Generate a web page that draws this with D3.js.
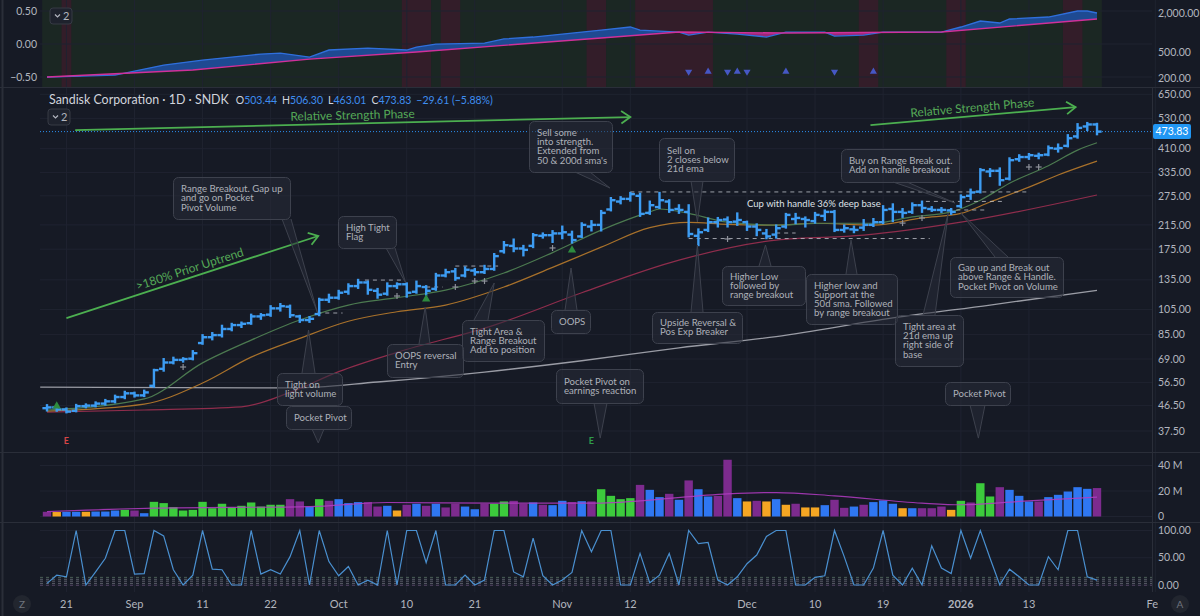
<!DOCTYPE html>
<html>
<head>
<meta charset="utf-8">
<script src="https://cdn.jsdelivr.net/npm/d3@7"></script>
<style>
  body { margin: 0; background: #161a25; }
  svg text { font-family: Lato, 'Noto Sans', sans-serif; }
</style>
</head>
<body>
<div id="vis"></div>
<script>
// trading days on the chart
const dates = [
  '2025-08-19','2025-08-20','2025-08-21','2025-08-22','2025-08-25','2025-08-26','2025-08-27','2025-08-28','2025-08-29',
  '2025-09-02','2025-09-03','2025-09-04','2025-09-05','2025-09-08','2025-09-09','2025-09-10','2025-09-11','2025-09-12',
  '2025-09-15','2025-09-16','2025-09-17','2025-09-18','2025-09-19','2025-09-22','2025-09-23','2025-09-24','2025-09-25',
  '2025-09-26','2025-09-29','2025-09-30',
  '2025-10-01','2025-10-02','2025-10-03','2025-10-06','2025-10-07','2025-10-08','2025-10-09','2025-10-10','2025-10-13',
  '2025-10-14','2025-10-15','2025-10-16','2025-10-17','2025-10-20','2025-10-21','2025-10-22','2025-10-23','2025-10-24',
  '2025-10-27','2025-10-28','2025-10-29','2025-10-30','2025-10-31',
  '2025-11-03','2025-11-04','2025-11-05','2025-11-06','2025-11-07','2025-11-10','2025-11-11','2025-11-12','2025-11-13',
  '2025-11-14','2025-11-17','2025-11-18','2025-11-19','2025-11-20','2025-11-21','2025-11-24','2025-11-25','2025-11-26',
  '2025-11-28',
  '2025-12-01','2025-12-02','2025-12-03','2025-12-04','2025-12-05','2025-12-08','2025-12-09','2025-12-10','2025-12-11',
  '2025-12-12','2025-12-15','2025-12-16','2025-12-17','2025-12-18','2025-12-19','2025-12-22','2025-12-23','2025-12-24',
  '2025-12-26','2025-12-29','2025-12-30','2025-12-31',
  '2026-01-02','2026-01-05','2026-01-06','2026-01-07','2026-01-08','2026-01-09','2026-01-12','2026-01-13','2026-01-14',
  '2026-01-15','2026-01-16','2026-01-20','2026-01-21','2026-01-22','2026-01-23'
]
const futureDates = ['2026-01-26', '2026-01-27', '2026-01-28', '2026-01-29', '2026-01-30', '2026-02-02']

const open = [45.5,45.8,45.0,44.5,46.3,46.5,47.3,48.2,50.0,51.6,
  50.7,55.0,63.5,67.0,68.5,69.2,79.0,83.0,84.5,89.0,
  92.0,93.5,99.0,100.5,106.0,107.5,99.0,96.0,101,114,
  116,122,128,132,123,120,128,130,122,127,
  125,140,145,140,146,144,148,172,180,176,
  180,196,197,200,198,195,212,215,245,262,
  268,275,238,250,262,246,240,196,206,220,
  225,221,220,212,200,198,212,226,226,222,
  232,240,206,207,210,215,220,246,240,240,
  254,246,244,243,252,275,285,338,340,318,
  375,382,386,390,410,420,455,495,503.44]
const high = [46.7,46.5,45.4,46.8,47.0,47.8,48.8,50.6,52.3,51.9,
  52.8,63.0,69.0,69.8,69.5,73.8,84.5,86.0,91.5,93.0,
  94.0,100.5,101.0,108.0,110.0,108.5,99.5,98.5,115,119,
  123,130,135,133,125,131,131,131,133,128,
  142,147,148,150,148,152,168,186,190,180,
  199,200,204,212,203,218,222,242,270,272,
  282,280,262,282,265,254,254,207,227,228,
  229,237,221,216,206,214,236,236,229,238,
  243,242,214,212,224,226,252,256,246,258,
  262,250,248,246,276,290,345,345,347,378,
  388,392,393,418,425,460,505,510,506.30]
const low = [44.6,44.5,43.9,44.3,45.8,46.2,46.9,47.8,49.5,50.2,
  50.4,54.5,62.5,66.5,67.5,68.8,78.5,81.5,83.5,88.0,
  90.5,93.0,97.0,99.5,104.0,98.5,94.5,94.5,100,112,
  115,120,126,120,116,119,126,117,121,119,
  124,139,135,139,141,143,147,170,172,166,
  178,193,186,192,185,194,205,205,243,258,
  264,232,236,248,240,238,195,181,204,212,
  212,215,206,197,192,193,210,218,212,219,
  224,204,203,202,206,213,218,222,230,238,
  240,242,240,236,250,268,283,325,302,316,
  370,376,378,388,400,418,450,480,463.01]
const close = [45.8,45.0,44.2,46.3,46.5,47.3,48.2,50.0,51.6,50.7,
  52.0,62.8,67.0,68.5,69.0,72.5,83.0,84.5,89.0,92.0,
  93.0,99.0,100.0,106.0,108.0,100.0,96.0,97.0,114,116,
  121,128,132,124,119,128,130,121,128,123,
  140,144,137,147,144,148,165,181,176,174,
  197,197,200,202,189,215,215,238,265,268,
  279,236,254,265,244,244,199,202,220,224,
  220,224,212,206,195,209,234,228,224,234,
  240,206,209,206,215,220,244,240,238,254,
  248,244,244,240,272,283,342,340,314,372,
  382,388,388,412,412,448,489,503.44,473.83]

// volume in millions, and its class: G pocket pivot, U up, D down, L light
const volume = [3.7,3.5,3.7,3.7,3.7,3.9,3.9,4.7,5.2,4.7,
  2.6,11.5,10.5,7.3,4.7,5.2,11.5,6.5,10.0,7.1,
  8.4,11.0,7.8,9.2,9.2,13.6,11.8,7.8,13.6,12.3,
  13.6,10.5,11.3,11.3,7.8,8.4,4.7,9.2,10.0,8.4,
  10.0,7.1,10.0,7.8,5.7,10.0,10.0,11.8,12.3,10.0,
  11.0,9.2,8.9,12.3,11.3,12.0,11.8,21.4,16.2,13.6,
  14.4,24.8,20.9,15.2,17.8,13.1,28.3,21.4,15.7,16.2,
  44.5,14.4,11.8,12.3,11.8,13.6,9.2,10.0,7.1,7.1,
  8.9,13.1,6.8,7.8,9.2,11.3,12.6,10.0,6.5,6.5,
  6.5,6.5,7.8,5.2,12.3,11.0,26.1,15.7,23.0,20.9,
  16.2,11.8,11.8,15.2,17.0,19.6,23.0,21.7,22.3]
const volClass = ('DLUULUUUGDUGGGGGGGGGGGGGGDDUGDUUUDDULDUDUDDUUDGGDDUDUUDUD' +
  'GGGGDUUDUDUUDDULDLULDLLUDDUDUUULUDDDLGDGGDUUUDUUUUUD').split('')
const volAvg = [[0,3.9],[11,6.5],[27,7.8],[35,11],[46,10.5],[57,10.5],[61,12.3],[70,17.8],
  [75,18.8],[81,16.2],[90,10.5],[94,9.2],[100,11.8],[108,15.2]]

// lower oscillator
const osc = [3,18,15,100,0,24,49,100,100,20,
  21,100,90,28,0,18,100,29,28,0,
  0,100,20,28,20,52,100,0,100,43,
  17,34,0,9,0,100,0,100,100,41,
  100,0,0,18,0,9,100,100,24,15,
  86,17,0,9,23,100,61,100,100,0,
  0,58,4,18,58,0,100,76,78,9,
  0,15,39,55,89,100,100,0,0,14,
  17,100,52,0,0,31,100,18,0,31,
  0,72,31,21,100,49,100,49,0,29,
  15,0,0,52,28,100,100,15,9]
const oscLevels = [14, 10.5, 7, 3, -0.5]

// moving averages: [bar index, price]
const ema21 = [[0,44.8],[10,49.2],[16,66.8],[21,81],[26,96],[31,109],[36,116],[41,123.7],[47,143],
  [52,170],[57,205.7],[62,240],[63,246],[66,237],[70,220],[75,214.6],[80,218],[85,218],[89,230],
  [93,240],[96,265],[99,306],[103,355],[106,405],[108,431]]
const sma50 = [[0,44.4],[10,47.1],[16,56.3],[21,70.1],[26,82.2],[31,95],[36,103],[41,109],[47,127],
  [52,150],[57,178],[62,210],[66,219.7],[70,216],[75,214.6],[79,218],[85,214.6],[90,228],[94,237],
  [97,261],[101,296],[104,328],[108,369]]
const sma100 = [[0,44],[10,44.8],[20,46],[25,52],[30,62],[36,73],[46,92],[55,121],[65,159.5],
  [75,189],[84,197],[94,220],[108,277]]
const sma200 = [[-0.7,54.4],[25,54],[34,56.8],[45,61.8],[55,68],[65,75.9],[75,83.4],[87,97.7],
  [97,109],[108,123.5]]

// relative strength pane
const rsLine = [[0,207],[7,222],[12,316],[16,377],[22,467],[24,484],[27,420],[29,539],[33,578],
  [37,539],[38,599],[40,666],[45,690],[47,797],[50,854],[53,949],[57,1094],[60,1218],[61,1094],
  [65,1019],[66,916],[68,1019],[71,949],[74,854],[76,1019],[80,1019],[81,884],[84,916],[86,1019],
  [92,1019],[94,1218],[96,1506],[98,1403],[99,1616],[103,1735],[106,2146],[107,2146],[108,2000]]
const rsAvg = [[0,207],[15,265],[27,391],[38,502],[57,825],[65,1019],[76,983],[92,1019],[108,1616]]
const rsWeakBands = [[2,2],[37,39],[41,42],[56,57],[61,68],[84,85],[93,94],[105,106]]
const rsSignals = [[66,'dn'],[68,'up'],[70,'dn'],[71,'up'],[72,'dn'],[76,'up'],[81,'dn'],[85,'up']]

// chart markers
const plusMarks = [[14,64.5],[36,117.7],[42,127],[44,133.6],[45,133.6],[52,176.8],[70,190.8],
  [88,218.3],[90,227.9],[101,351.1],[102,351.1]]
const pivotMarks = [[1,46.3],[39,114.7],[54,173.6]]
const earnings = [[2,'miss'],[56,'beat']]

// axis ticks
const priceTicks = [650,530,410,335,275,215,175,135,105,85,69,56.5,46.5,37.5]
const rsTicks = [2000,500,200]
const rsLeftTicks = [0.5,0,-0.5]
const volTicks = [40,20,0]
const oscTicks = [100,50,0]
const timeTicks = [['2025-08-21','21'],['2025-09-02','Sep'],['2025-09-11','11'],['2025-09-22','22'],
  ['2025-10-01','Oct'],['2025-10-10','10'],['2025-10-21','21'],['2025-11-03','Nov'],['2025-11-12','12'],
  ['2025-12-01','Dec'],['2025-12-10','10'],['2025-12-19','19'],['2026-01-02','2026'],['2026-01-13','13'],
  ['2026-02-02','Feb']]

// annotations
const trendArrows = [
  { from: [2.9, 480], to: [60, 536], label: 'Relative Strength Phase' },
  { from: [84.7, 501], to: [105.8, 583], label: 'Relative Strength Phase' },
  { from: [2, 97.6], to: [27.9, 195.7], label: '>180% Prior Uptrend' }
]
const levelLines = [[60,100.9,284.2],[66,90.8,191.5],[90.4,98.6,262.3],[92.7,96.5,243.9],[75,77,200.7],
  [32.7,36.7,134.7],[39,40.7,127],[42,46.4,151.7],[27.8,30.4,101.9]]
const callouts = [
  { lines: ['Range Breakout. Gap up', 'and go on Pocket', 'Pivot Volume'], box: [173,177,117,42], side: 'bottom', base: [282,291], tip: [27.8,102.7] },
  { lines: ['High Tight', 'Flag'], box: [338,216,58,32], side: 'bottom', base: [386,395], tip: [36.9,131.4] },
  { lines: ['Sell some', 'into strength.', 'Extended from', "50 & 200d sma's"], box: [529,121,83,51], side: 'bottom', base: [575,590], tip: [57.9,293.9] },
  { lines: ['Sell on', '2 closes below', '21d ema'], box: [659,138,75,43], side: 'bottom', base: [691,703], tip: [66.9,220.3] },
  { lines: ['Upside Reversal &', 'Pos Exp Breaker'], box: [652,312,90,31], side: 'top', base: [691,703], tip: [66.9,181.3] },
  { lines: ['OOPS'], box: [551,310,39,23], side: 'top', base: [565,577], tip: [53.9,149.2] },
  { lines: ['Tight Area &', 'Range Breakout', 'Add to position'], box: [462,320,82,41], side: 'top', base: [474,488], tip: [46,131.4] },
  { lines: ['OOPS reversal', 'Entry'], box: [387,344,76,33], side: 'top', base: [419,430], tip: [38.9,107.2] },
  { lines: ['Pocket Pivot on', 'earnings reaction'], box: [556,369,87,34], side: 'bottom', base: [594,607], tip: [56.9,35.3] },
  { lines: ['Tight on', 'light volume'], box: [277,373,65,32], side: 'top', base: [302,315], tip: [26.9,88.2] },
  { lines: ['Pocket Pivot'], box: [286,406,65,23], side: 'bottom', base: [312,324], tip: [27.9,33.9] },
  { lines: ['Higher Low', 'followed by', 'range breakout'], box: [722,266,83,39], side: 'top', base: [759,771], tip: [73.9,181.3] },
  { lines: ['Higher low and', 'Support at the', '50d sma. Followed', 'by range breakout'], box: [806,274,91,50], side: 'top', base: [846,857], tip: [82.7,189] },
  { lines: ['Buy on Range Break out.', 'Add on handle breakout'], box: [841,149,118,33], side: 'bottom', base: [893,907], tip: [93.4,258.8] },
  { lines: ['Tight area at', '21d ema up', 'right side of', 'base'], box: [895,315,68,51], side: 'top', base: [923,935], tip: [92.7,237.7] },
  { lines: ['Gap up and Break out', 'above Range & Handle.', 'Pocket Pivot on Volume'], box: [950,257,113,40], side: 'top', base: [995,1008], tip: [94,237.7] },
  { lines: ['Pocket Pivot'], box: [945,382,65,23], side: 'bottom', base: [970,985], tip: [95.8,35.3] }
]

const W = 1200, H = 616
const PLOT_L = 40, PLOT_R = 1152
const axisColor = '#b2b5be', gridColor = '#1f2330', sepColor = '#2a2e39'
const barBlue = '#3d9cf2'

const allDates = dates.concat(futureDates)
const x = d3.scaleLinear().domain([0, dates.length - 1]).range([47, 1097])
const half = (x(1) - x(0)) / 2
const y = d3.scaleLog().domain([37.5, 650]).range([431, 94.3])
const yRS = d3.scaleLog().domain([200, 2000]).range([78, 13])
const yLeft = d3.scaleLinear().domain([-0.5, 0.5]).range([77, 11])
const yVol = d3.scaleLinear().domain([0, 40]).range([516.5, 465.5])
const yOsc = d3.scaleLinear().domain([0, 100]).range([585, 530.5])
const volColor = d3.scaleOrdinal().domain(['G', 'U', 'D', 'L']).range(['#3ccb3c', '#2f77f2', '#7d2b8e', '#f5a623'])
const levelColor = d3.scaleOrdinal().range(['#6f8f7c', '#8a8e99', '#8a8e99', '#8a8e99', '#7c5f8c'])
const fmt2 = d3.format(',.2f')

const svg = d3.select('#vis').append('svg').attr('width', W).attr('height', H)
svg.append('rect').attr('width', W).attr('height', H).attr('fill', '#161a25')

const defs = svg.append('defs')
defs.append('clipPath').attr('id', 'clipMain').append('rect')
  .attr('x', PLOT_L).attr('y', 88).attr('width', PLOT_R - PLOT_L).attr('height', 364)
defs.append('clipPath').attr('id', 'clipAxis').append('rect')
  .attr('x', 0).attr('y', 592).attr('width', 1158).attr('height', 24)

// ---------- top relative strength pane: background ----------
const rsBack = svg.append('g')
rsBack.append('rect').attr('x', x(0) - half).attr('y', 0)
  .attr('width', x(dates.length - 1) - x(0) + 2 * half).attr('height', 87).attr('fill', '#1b2723')
rsBack.selectAll('rect.band').data(rsWeakBands).join('rect').attr('class', 'band')
  .attr('x', d => x(d[0]) - half).attr('y', 0)
  .attr('width', d => x(d[1]) - x(d[0]) + 2 * half).attr('height', 87).attr('fill', '#331d29')

// vertical grid through all panes
svg.append('g').selectAll('line').data(timeTicks).join('line')
  .attr('x1', d => x(allDates.indexOf(d[0]))).attr('x2', d => x(allDates.indexOf(d[0])))
  .attr('y1', 0).attr('y2', 592).attr('stroke', gridColor).attr('stroke-width', 1)

// ---------- top relative strength pane: content ----------
const rsPane = svg.append('g')
rsPane.selectAll('line.h').data(rsLeftTicks).join('line').attr('class', 'h')
  .attr('x1', PLOT_L).attr('x2', PLOT_R).attr('y1', d => yLeft(d)).attr('y2', d => yLeft(d))
  .attr('stroke', gridColor)

const rsPts = rsLine.map(d => [x(d[0]), yRS(d[1])])
const avgPts = rsAvg.map(d => [x(d[0]), yRS(d[1])])
const pix = d3.line()
const xa = x(0), xb = x(dates.length - 1)
defs.append('clipPath').attr('id', 'rsAbove').append('path')
  .attr('d', pix(avgPts.concat([[xb, 0], [xa, 0]])) + 'Z')
defs.append('clipPath').attr('id', 'rsBelow').append('path')
  .attr('d', pix(avgPts.concat([[xb, 87], [xa, 87]])) + 'Z')
const between = pix(rsPts.concat(avgPts.slice().reverse())) + 'Z'
rsPane.append('path').attr('d', between).attr('fill', '#1e4a92').attr('clip-path', 'url(#rsAbove)')
rsPane.append('path').attr('d', between).attr('fill', '#9c2777').attr('clip-path', 'url(#rsBelow)')
rsPane.append('path').attr('d', pix(rsPts)).attr('fill', 'none').attr('stroke', '#2f6fdc').attr('stroke-width', 1.3)
rsPane.append('path').attr('d', pix(avgPts)).attr('fill', 'none').attr('stroke', '#d0309a').attr('stroke-width', 1.4)

const tri = d3.symbol().type(d3.symbolTriangle).size(22)
rsPane.selectAll('path.sig').data(rsSignals).join('path').attr('class', 'sig')
  .attr('d', tri)
  .attr('transform', d => `translate(${x(d[0])},${yRS(250)}) rotate(${d[1] === 'dn' ? 180 : 0})`)
  .attr('fill', '#4657c4')

rsPane.selectAll('text.l').data(rsLeftTicks).join('text').attr('class', 'l')
  .attr('x', 37).attr('y', d => yLeft(d)).attr('dy', '0.35em').attr('text-anchor', 'end')
  .attr('font-size', 10.5).attr('fill', axisColor).text(d => d3.format('.2f')(d))
rsPane.selectAll('text.r').data(rsTicks).join('text').attr('class', 'r')
  .attr('x', 1158).attr('y', d => yRS(d)).attr('dy', '0.35em')
  .attr('font-size', 10.5).attr('fill', axisColor).text(d => fmt2(d))

function chip(g, cx, cy) {
  g.append('rect').attr('x', cx).attr('y', cy).attr('width', 22).attr('height', 16).attr('rx', 3)
    .attr('fill', '#1e222d').attr('stroke', '#363a45')
  g.append('path').attr('d', `M${cx + 5},${cy + 6.5}l2.5,2.5l2.5,-2.5`).attr('fill', 'none')
    .attr('stroke', axisColor).attr('stroke-width', 1.2)
  g.append('text').attr('x', cx + 13).attr('y', cy + 12).attr('font-size', 11).attr('fill', axisColor).text('2')
}
chip(rsPane, 50, 8)

// ---------- separators ----------
;[87.5, 452.5, 522.5].forEach(v => svg.append('line').attr('x1', 0).attr('x2', W).attr('y1', v).attr('y2', v)
  .attr('stroke', sepColor))
svg.append('line').attr('x1', PLOT_R + 0.5).attr('x2', PLOT_R + 0.5).attr('y1', 88).attr('y2', 592).attr('stroke', sepColor)
svg.append('line').attr('x1', 2.5).attr('x2', 2.5).attr('y1', 0).attr('y2', H).attr('stroke', sepColor).attr('stroke-width', 2)

// ---------- main price pane ----------
const main = svg.append('g')
main.selectAll('line.h').data(priceTicks).join('line').attr('class', 'h')
  .attr('x1', PLOT_L).attr('x2', PLOT_R).attr('y1', d => y(d)).attr('y2', d => y(d)).attr('stroke', gridColor)
main.selectAll('text.r').data(priceTicks).join('text').attr('class', 'r')
  .attr('x', 1158).attr('y', d => y(d)).attr('dy', '0.35em')
  .attr('font-size', 10.5).attr('fill', axisColor).text(d => fmt2(d))

const pane = main.append('g').attr('clip-path', 'url(#clipMain)')
const maLine = d3.line().x(d => x(d[0])).y(d => y(d[1])).curve(d3.curveMonotoneX)
const maStyles = [[sma200, '#9a9ca5', 1.3], [sma100, '#8f2d4c', 1.2], [sma50, '#a8712b', 1.2], [ema21, '#4c7a50', 1.2]]
maStyles.forEach(([pts, col, w]) => pane.append('path').attr('d', maLine(pts))
  .attr('fill', 'none').attr('stroke', col).attr('stroke-width', w))

// last price line
const last = close[close.length - 1]
pane.append('line').attr('x1', PLOT_L).attr('x2', PLOT_R).attr('y1', y(last)).attr('y2', y(last))
  .attr('stroke', '#2b8ff0').attr('stroke-dasharray', '1,2').attr('stroke-width', 1)

// level lines
pane.selectAll('line.lvl').data(levelLines).join('line').attr('class', 'lvl')
  .attr('x1', d => x(d[0])).attr('x2', d => x(d[1])).attr('y1', d => y(d[2])).attr('y2', d => y(d[2]))
  .attr('stroke', '#c9ccd4').attr('stroke-opacity', 0.75).attr('stroke-dasharray', '4,4').attr('stroke-width', 1)

pane.append('text').attr('x', 747).attr('y', y(284.2) + 12).attr('dy', '0.35em')
  .attr('font-size', 9.5).attr('fill', '#dfe1e7').text('Cup with handle 36% deep base')

// OHLC bars
const bars = pane.selectAll('g.bar').data(dates).join('g').attr('class', 'bar')
  .attr('stroke', barBlue).attr('stroke-width', 2.4)
bars.append('line').attr('x1', (d, i) => x(i)).attr('x2', (d, i) => x(i))
  .attr('y1', (d, i) => y(high[i]) - 1).attr('y2', (d, i) => y(low[i]) + 1)
bars.append('line').attr('x1', (d, i) => x(i) - 4.6).attr('x2', (d, i) => x(i))
  .attr('y1', (d, i) => y(open[i])).attr('y2', (d, i) => y(open[i]))
bars.append('line').attr('x1', (d, i) => x(i)).attr('x2', (d, i) => x(i) + 4.6)
  .attr('y1', (d, i) => y(close[i])).attr('y2', (d, i) => y(close[i]))

// markers
const plus = pane.selectAll('g.plus').data(plusMarks).join('g').attr('class', 'plus')
  .attr('transform', d => `translate(${x(d[0])},${y(d[1])})`).attr('stroke', '#8e919a').attr('stroke-width', 1.2)
plus.append('line').attr('x1', -3).attr('x2', 3)
plus.append('line').attr('y1', -3).attr('y2', 3)
pane.selectAll('path.pp').data(pivotMarks).join('path').attr('class', 'pp')
  .attr('d', d3.symbol().type(d3.symbolTriangle).size(30))
  .attr('transform', d => `translate(${x(d[0])},${y(d[1])})`).attr('fill', '#2e8b3e')
pane.selectAll('text.e').data(earnings).join('text').attr('class', 'e')
  .attr('x', d => x(d[0])).attr('y', 441).attr('dy', '0.35em').attr('text-anchor', 'middle')
  .attr('font-size', 9).attr('font-weight', 'bold')
  .attr('fill', d => d[1] === 'beat' ? '#2e9c4a' : '#d64545').text('E')

// trend arrows
trendArrows.forEach(a => {
  const x1 = x(a.from[0]), y1 = y(a.from[1]), x2 = x(a.to[0]), y2 = y(a.to[1])
  const ang = Math.atan2(y2 - y1, x2 - x1)
  const g = pane.append('g')
  g.append('line').attr('x1', x1).attr('y1', y1).attr('x2', x2).attr('y2', y2)
    .attr('stroke', '#4caf50').attr('stroke-width', 1.8)
  const hl = 11, ha = 0.6
  g.append('path').attr('d', `M${x2 - hl * Math.cos(ang - ha)},${y2 - hl * Math.sin(ang - ha)}L${x2},${y2}L${x2 - hl * Math.cos(ang + ha)},${y2 - hl * Math.sin(ang + ha)}`)
    .attr('fill', 'none').attr('stroke', '#4caf50').attr('stroke-width', 1.8)
  const mx = (x1 + x2) / 2 + 8.5 * Math.sin(ang), my = (y1 + y2) / 2 - 8.5 * Math.cos(ang)
  g.append('text').attr('transform', `translate(${mx},${my}) rotate(${ang * 180 / Math.PI})`)
    .attr('text-anchor', 'middle').attr('dy', '0.35em').attr('font-size', 12)
    .attr('fill', '#55a957').text(a.label)
})

// callouts
const boxFill = 'rgba(40,44,56,0.55)', boxStroke = '#3d414d'
callouts.forEach(c => {
  const [bx, by, bw, bh] = c.box
  const ey = c.side === 'top' ? by : by + bh
  const tx = x(c.tip[0]), ty = y(c.tip[1])
  const g = main.append('g')
  g.append('path').attr('d', `M${c.base[0]},${ey}L${tx},${ty}L${c.base[1]},${ey}`)
    .attr('fill', boxFill).attr('stroke', boxStroke)
  g.append('rect').attr('x', bx + 0.5).attr('y', by + 0.5).attr('width', bw).attr('height', bh).attr('rx', 5)
    .attr('fill', boxFill).attr('stroke', boxStroke)
  const lh = 9.2, y0 = by + bh / 2 - (c.lines.length - 1) * lh / 2
  g.selectAll('text').data(c.lines).join('text')
    .attr('x', bx + 8).attr('y', (d, i) => y0 + i * lh).attr('dy', '0.35em')
    .attr('font-size', 9.6).attr('fill', '#aeb1b9').text(d => d)
})

// last price tag
main.append('rect').attr('x', 1153).attr('y', y(last) - 7.5).attr('width', 38).attr('height', 15).attr('rx', 2)
  .attr('fill', '#2196f3')
main.append('text').attr('x', 1172).attr('y', y(last)).attr('dy', '0.35em').attr('text-anchor', 'middle')
  .attr('font-size', 10.5).attr('fill', '#ffffff').text(fmt2(last))

// header
chip(main, 48, 109)
const n = close.length - 1
const chg = close[n] - close[n - 1]
const title = main.append('text').attr('x', 49).attr('y', 100).attr('dy', '0.35em').attr('font-size', 12.4)
  .attr('fill', '#d1d4dc').text('Sandisk Corporation · 1D · SNDK')
const titleW = title.node().getComputedTextLength()
const hdr = main.append('text').attr('x', 49 + titleW + 7).attr('y', 100).attr('dy', '0.35em').attr('font-size', 10.5)
const numCol = '#3f8ef0'
;[['O', open[n]], ['H', high[n]], ['L', low[n]], ['C', close[n]]].forEach(([k, v], i) => {
  hdr.append('tspan').attr('fill', '#d1d4dc').attr('dx', i ? 5 : 0).text(k)
  hdr.append('tspan').attr('fill', numCol).text(d3.format('.2f')(v))
})
hdr.append('tspan').attr('fill', numCol).attr('dx', 5)
  .text(`${d3.format('.2f')(chg).replace('-', '−')} (${d3.format('.2f')(chg / close[n - 1] * 100).replace('-', '−')}%)`)

// ---------- volume pane ----------
const vol = svg.append('g')
vol.selectAll('line.h').data(volTicks).join('line').attr('class', 'h')
  .attr('x1', PLOT_L).attr('x2', PLOT_R).attr('y1', d => yVol(d)).attr('y2', d => yVol(d)).attr('stroke', gridColor)
vol.selectAll('rect.v').data(volume).join('rect').attr('class', 'v')
  .attr('x', (d, i) => x(i) - 4.2).attr('width', 8.4)
  .attr('y', d => yVol(d)).attr('height', d => yVol(0) - yVol(d))
  .attr('fill', (d, i) => volColor(volClass[i]))
vol.append('path').attr('d', d3.line().x(d => x(d[0])).y(d => yVol(d[1])).curve(d3.curveMonotoneX)(volAvg))
  .attr('fill', 'none').attr('stroke', '#b43cc4').attr('stroke-width', 1.2).attr('stroke-opacity', 0.85)
vol.selectAll('text.r').data(volTicks).join('text').attr('class', 'r')
  .attr('x', 1158).attr('y', d => yVol(d)).attr('dy', '0.35em')
  .attr('font-size', 10.5).attr('fill', axisColor).text(d => d === 0 ? '0' : d + ' M')

// ---------- oscillator pane ----------
const op = svg.append('g')
op.selectAll('line.h').data(oscTicks).join('line').attr('class', 'h')
  .attr('x1', PLOT_L).attr('x2', PLOT_R).attr('y1', d => yOsc(d)).attr('y2', d => yOsc(d)).attr('stroke', gridColor)
op.selectAll('line.lv').data(oscLevels).join('line').attr('class', 'lv')
  .attr('x1', PLOT_L).attr('x2', PLOT_R).attr('y1', d => yOsc(d)).attr('y2', d => yOsc(d))
  .attr('stroke', (d, i) => levelColor(i)).attr('stroke-opacity', 0.6).attr('stroke-dasharray', '3,3')
op.append('path').attr('d', d3.line().x((d, i) => x(i)).y(d => yOsc(d))(osc))
  .attr('fill', 'none').attr('stroke', '#4a90d0').attr('stroke-width', 1.2)
op.selectAll('text.r').data(oscTicks).join('text').attr('class', 'r')
  .attr('x', 1158).attr('y', d => yOsc(d)).attr('dy', '0.35em')
  .attr('font-size', 10.5).attr('fill', axisColor).text(d => d3.format('.2f')(d))

// ---------- time axis ----------
const ta = svg.append('g').attr('clip-path', 'url(#clipAxis)')
ta.selectAll('text').data(timeTicks).join('text')
  .attr('x', d => x(allDates.indexOf(d[0]))).attr('y', 604).attr('dy', '0.35em').attr('text-anchor', 'middle')
  .attr('font-size', 11).attr('font-weight', d => d[1] === '2026' ? 'bold' : 'normal')
  .attr('fill', axisColor).text(d => d[1])
;[[22, 'Z'], [1180, 'A']].forEach(([cx, t]) => {
  svg.append('circle').attr('cx', cx).attr('cy', 604).attr('r', 9).attr('fill', '#22262f')
  svg.append('text').attr('x', cx).attr('y', 604).attr('dy', '0.35em').attr('text-anchor', 'middle')
    .attr('font-size', 10).attr('fill', '#6f737d').text(t)
})
</script>
</body>
</html>
